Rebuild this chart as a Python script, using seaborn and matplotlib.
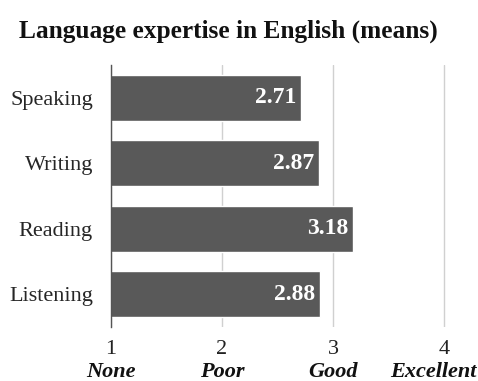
import matplotlib
matplotlib.use("Agg")
import matplotlib.pyplot as plt
import matplotlib.transforms as mtransforms
import seaborn as sns
import pandas as pd

categories = ["Speaking", "Writing", "Reading", "Listening"]
means = [2.71, 2.87, 3.18, 2.88]
tick_values = [1, 2, 3, 4]
tick_words = ["None", "Poor", "Good", "Excellent"]

sns.set_style("white")
plt.rcParams['font.family'] = ['Liberation Serif', 'DejaVu Serif']

df = pd.DataFrame({"skill": categories, "mean": means})

fig = plt.figure(figsize=(4.78, 3.81), dpi=100)
ax = fig.add_axes([111/478, 1 - 327/381, (444 - 111)/478 * 1.1, (327 - 65)/381])

sns.barplot(data=df, x="mean", y="skill", orient="h", color="#595959",
            saturation=1, width=0.7, ax=ax, zorder=3)

ax.set_xlim(1, 4.3)
ax.set_xticks(tick_values)
ax.set_xticklabels([str(t) for t in tick_values], fontsize=16, color="#222222")
ax.tick_params(axis="x", length=0, pad=9)
ax.tick_params(axis="y", length=0, pad=13, labelsize=16)
ax.set_xlabel("")
ax.set_ylabel("")
for s in ["top", "right", "bottom"]:
    ax.spines[s].set_visible(False)
ax.spines["left"].set_color("#555555")
ax.spines["left"].set_linewidth(1.0)
ax.spines["left"].set_zorder(4)
ax.xaxis.grid(True, color="#d0d0d0", linewidth=1.0, zorder=0)
ax.set_axisbelow(True)

trans = mtransforms.blended_transform_factory(ax.transData, ax.transAxes)
for k, (t, w) in enumerate(zip(tick_values, tick_words)):
    shift = -8 / 72 if k == len(tick_words) - 1 else 0
    tr = trans + mtransforms.ScaledTranslation(shift, 0, fig.dpi_scale_trans)
    ax.text(t, -0.17, w, transform=tr, ha="center", va="center",
            fontsize=16, fontweight="bold", fontstyle="italic", color="#111111")

for i, v in enumerate(means):
    ax.text(v - 0.04, i, f"{v:.2f}", ha="right", va="center", color="white",
            fontsize=17, fontweight="bold", zorder=5)

fig.text(228/478, 1 - 31/381, "Language expertise in English (means)",
         ha="center", va="center", fontsize=18.3, fontweight="bold", color="#111111")

fig.savefig("out.png", dpi=100)
